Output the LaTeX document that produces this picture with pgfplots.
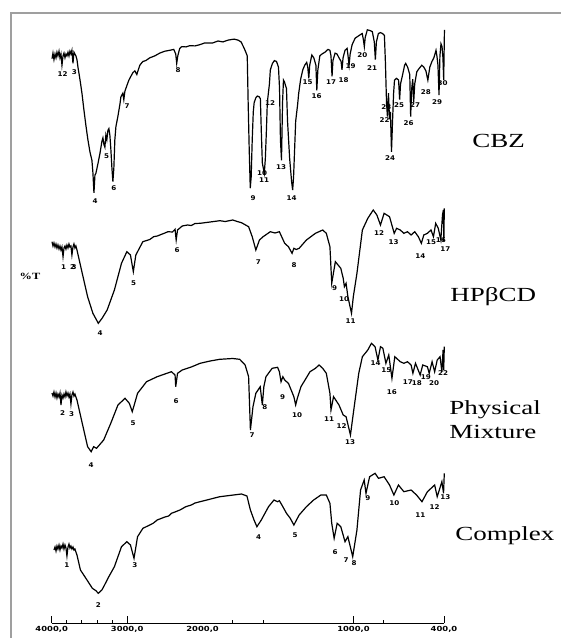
\documentclass[border=0pt]{standalone}
\usepackage{fontspec}
\setmainfont{Liberation Serif}
\newfontfamily\lblfont{DejaVu Sans}
\usepackage{pgfplots}
\pgfplotsset{compat=1.18}
\tikzset{pk/.style={font=\lblfont\bfseries\fontsize{6.5}{7}\selectfont, inner sep=0pt, xscale=1.1},
         nm/.style={font=\fontsize{20}{22}\selectfont, inner sep=0pt, xscale=1.35, anchor=west}}
\begin{document}
\begin{tikzpicture}
\useasboundingbox (0,0) rectangle (561pt,638pt);
\begin{axis}[
  at={(51.7pt,15pt)}, anchor=south west,
  scale only axis, width=392.3pt, height=610pt,
  xmin=4000, xmax=400, ymin=13, ymax=623, y dir=reverse,
  x coord trafo/.code={\pgfmathparse{(#1>=2000)*(2000-0.5*(#1))+(#1<2000)*(3000-(#1))}},
  x coord inv trafo/.code={\pgfmathparse{(#1<=1000)*(4000-2*(#1))+(#1>1000)*(3000-(#1))}},
  axis x line=bottom, axis y line=none,
  axis line style={-, black, line width=0.9pt},
  xtick={4000,3000,1000,400},
  xticklabels={4000{,}0,3000{,}0,1000{,}0,400{,}0},
  extra x ticks={2000},
  extra x tick labels={2000{,}0},
  extra x tick style={major tick length=0pt},
  minor xtick={3800,3600,3400,3200,1800,1600,800},
  tick align=inside,
  major tick length=7pt, minor tick length=3pt,
  tick style={black, line width=0.8pt},
  xticklabel style={font=\lblfont\bfseries\fontsize{7}{8}\selectfont, inner sep=0pt, yshift=-3.5pt, xscale=1.2},
  ytick=\empty,
  clip=false,
]
% CBZ
\addplot[black, line width=1.2pt] table {
3996 58.7
3983 53.1
3970 59.6
3956 54.0
3943 57.8
3930 52.2
3917 55.9
3903 51.2
3890 57.8
3877 54.0
3864 65.2
3850 55.9
3837 53.1
3824 57.8
3811 54.0
3798 55.9
3784 52.2
3771 55.9
3758 51.2
3745 54.0
3732 50.3
3718 63.4
3705 52.2
3692 54.0
3679 55.9
3665 59.6
3652 67.1
3626 79.2
3599 93.2
3573 109.9
3546 125.8
3520 139.8
3493 151.9
3467 160.3
3454 172.4
3440 192.9
3427 175.2
3414 173.3
3388 164.0
3361 153.7
3335 141.6
3321 137.9
3308 144.4
3295 147.2
3282 135.1
3269 139.8
3255 130.4
3242 128.6
3229 135.1
3216 149.1
3202 167.7
3189 181.7
3176 167.7
3163 139.8
3149 126.7
3123 116.5
3096 104.4
3083 96.9
3057 93.2
3044 99.7
3030 91.3
3004 85.7
2977 80.1
2951 76.4
2924 72.7
2898 70.8
2872 74.5
2832 65.2
2792 61.5
2753 60.6
2700 57.8
2634 55.9
2568 53.1
2501 51.2
2435 50.3
2382 49.4
2356 54.0
2343 63.4
2329 55.9
2303 48.4
2276 46.6
2220 46.9
2171 45.7
2100 45.9
2038 44.7
1985 42.9
1932 42.9
1898 41.0
1865 41.9
1831 40.1
1791 39.1
1765 40.1
1745 41.9
1724 48.4
1711 53.1
1704 55.9
1698 102.5
1691 149.1
1684 188.2
1678 177.0
1671 139.8
1664 111.8
1658 102.5
1647 97.8
1637 96.0
1624 96.9
1617 98.8
1611 130.4
1604 163.0
1597 168.6
1591 173.3
1584 158.4
1577 130.4
1571 102.5
1564 93.2
1557 83.9
1551 69.9
1537 63.4
1524 60.6
1510 61.5
1497 67.1
1490 88.5
1484 139.8
1477 160.3
1470 102.5
1464 80.1
1457 82.0
1450 85.7
1444 88.5
1437 121.1
1423 158.4
1410 181.7
1403 190.1
1397 177.0
1390 149.1
1383 121.1
1370 104.4
1363 93.2
1350 79.2
1336 69.9
1323 65.2
1310 62.4
1303 67.1
1296 78.3
1290 65.2
1276 55.0
1263 57.8
1249 65.2
1243 90.4
1236 69.9
1223 55.9
1209 54.0
1189 52.2
1169 49.4
1156 50.3
1149 55.9
1142 76.4
1136 60.6
1122 53.1
1109 54.0
1096 57.8
1082 61.5
1076 69.9
1069 57.8
1056 50.3
1042 48.4
1036 55.9
1029 65.2
1022 54.0
1009 44.7
989 38.2
962 35.4
942 33.5
935 39.1
928 46.6
922 37.3
908 29.8
888 30.7
875 31.7
862 41.9
855 59.6
848 41.9
835 33.5
821 32.6
808 33.5
795 35.4
788 63.4
781 102.5
775 116.5
768 93.2
761 119.3
755 111.8
748 151.9
741 121.1
734 93.2
728 80.1
715 78.3
701 80.1
694 99.7
688 83.9
674 74.5
661 65.2
654 63.4
641 67.1
627 74.5
621 116.5
614 88.5
607 79.2
601 102.5
594 83.9
580 71.7
567 68.9
547 65.2
534 67.1
520 70.8
507 80.1
494 67.1
480 61.5
467 57.8
453 50.3
447 55.9
440 65.2
433 95.0
427 55.9
420 43.8
413 46.6
407 57.8
402 80.1
397 29.8
};
% HPbetaCD
\addplot[black, line width=1.2pt] table {
3996 241.7
3983 246
3970 243
3956 247
3943 244
3930 248
3917 245
3903 249
3890 246
3877 250
3864 247
3850 256.7
3837 248
3824 246
3811 249
3798 245
3784 248
3771 244
3758 247
3745 246
3732 255
3718 247
3705 244
3692 248
3679 246
3665 250
3595 273.3
3524 296.7
3454 313.3
3420 318
3382 323.3
3330 318
3265 310
3169 290
3075 263.3
3004 251.7
2956 255
2918 271.7
2885 255
2792 241.7
2700 239.5
2649 236.7
2600 236
2500 233
2459 231.7
2400 232
2365 229.3
2350 240
2332 230
2270 226
2200 225
2150 225.5
2100 223.5
2033 223.3
1950 222
1886 220.7
1850 221.5
1800 220
1770 221.5
1742 222.7
1695 226.7
1671 236.7
1647 250
1623 240
1599 236.7
1551 231.7
1520 233
1491 231.7
1456 243.3
1431 246.7
1407 253.3
1395 248.3
1380 249.5
1360 248.3
1312 240
1252 233.3
1204 230
1180 233.3
1156 246.7
1144 283.3
1120 261.7
1084 268.3
1068 278.3
1060 286.7
1049 283.3
1037 296.7
1013 313.3
1001 296.7
977 273.3
941 230
905 218.3
869 210
845 215
821 225
797 213.3
761 216.7
730 233.3
714 228.3
690 230
666 233.3
642 231.7
618 235
594 231.7
570 236.7
550 243.3
534 235
510 233.3
486 230
470 236.7
455 223.3
438 228.3
421 240
410 215
404 210
401 241.7
398 208.3
};
% Physical mixture
\addplot[black, line width=1.2pt] table {
3996 393
3983 396
3970 392
3956 397
3943 393
3930 398
3917 394
3903 397
3890 393
3877 405
3864 395
3850 398
3837 394
3824 397
3811 392
3798 396
3784 393
3771 397
3758 394
3745 404
3732 395
3718 392
3705 396
3692 394
3679 397
3665 400
3595 423.3
3524 446.7
3477 451.7
3444 446.7
3406 448.3
3311 440
3217 423.3
3122 405
3028 398.3
2971 403.3
2932 411.7
2862 393.3
2743 381.7
2602 376.7
2500 374
2413 371.7
2365 375
2356 386.7
2332 373.3
2270 370
2150 367
2033 363.3
1950 361
1886 359.3
1800 358.5
1754 359.3
1718 365
1695 376.7
1683 430
1666 406.7
1647 393.3
1618 386.7
1604 405
1594 386.7
1580 376.7
1539 368.3
1503 367.3
1491 371.7
1480 381.7
1468 376.7
1456 380
1431 383.3
1395 396.7
1383 405
1372 398.3
1348 386.7
1288 371.7
1252 368.3
1228 365
1204 368.3
1180 373.3
1156 393.3
1149 410
1132 396.7
1096 405
1068 415
1049 416.7
1020 435
1001 413.3
965 373.3
941 356.7
905 350
881 343.3
857 346.7
838 360
821 346.7
805 348.3
785 363.3
766 355
745 378.3
726 356.7
690 361.7
666 363.3
642 361.7
618 365
606 373.3
589 363.3
558 375
541 365
510 366.7
498 373.3
479 361.7
462 371.7
445 360
426 356.7
414 371.7
406 350
402 370
398 346.7
};
% Complex
\addplot[black, line width=1.2pt] table {
3970 550
3956 547
3943 551
3930 546
3917 549
3903 545
3890 550
3877 546
3864 548
3850 544
3837 549
3824 545
3811 548
3798 556
3784 547
3771 544
3758 548
3745 546
3732 549
3718 547
3705 550
3692 549
3679 552
3665 555
3619 570
3532 580
3461 588.3
3414 590.7
3382 593.3
3335 590
3311 586.7
3243 576.7
3169 566.7
3075 546.7
3004 541.7
2956 545
2909 558.3
2862 536.7
2791 528.3
2700 525
2650 523
2602 520
2500 517
2450 516
2413 513.3
2350 511.5
2300 510
2223 506.7
2150 505
2100 503
2033 501.7
1886 496.7
1742 494
1706 496
1683 510
1659 520
1640 526.7
1611 520
1563 506.7
1527 500
1503 501.7
1491 500.7
1468 506.7
1444 513.3
1419 518.3
1395 525
1360 515
1312 506.7
1264 500
1216 495
1180 495
1156 503.3
1144 523.3
1128 538.3
1108 523.3
1084 526.7
1056 541.7
1037 536.7
1005 556.7
977 530
953 490
929 480
917 493.3
893 476.7
857 473.3
834 478.3
797 476.7
761 485
732 495
702 485
666 491.7
618 490
582 495
546 501.7
510 491.7
462 485
445 496.7
414 481.7
403 493.3
398 473.3
};
\end{axis}
\begin{scope}[x=1pt, y=-1pt, shift={(0pt,638pt)}]
\draw[gray!75, line width=1.3pt] (11,638) -- (11,13) -- (561,13);
% CBZ peak labels
\node[pk] at (62.6,74.5) {12};
\node[pk] at (74.4,72) {3};
\node[pk] at (95,201) {4};
\node[pk] at (106.6,156.5) {5};
\node[pk] at (113.8,188) {6};
\node[pk] at (127,106) {7};
\node[pk] at (178,70) {8};
\node[pk] at (253,198.5) {9};
\node[pk] at (262.2,173.3) {10};
\node[pk] at (264,180) {11};
\node[pk] at (270,103.3) {12};
\node[pk] at (281,166.7) {13};
\node[pk] at (291.6,198.3) {14};
\node[pk] at (307.7,81.7) {15};
\node[pk] at (316.6,96) {16};
\node[pk] at (331,81.7) {17};
\node[pk] at (343.5,80) {18};
\node[pk] at (350.6,66) {19};
\node[pk] at (362.4,55) {20};
\node[pk] at (372,68.3) {21};
\node[pk] at (384.6,120) {22};
\node[pk] at (386.4,106.7) {23};
\node[pk] at (390,158.3) {24};
\node[pk] at (399,105) {25};
\node[pk] at (408.6,123.3) {26};
\node[pk] at (415,105) {27};
\node[pk] at (425.8,91.7) {28};
\node[pk] at (437.2,101.7) {29};
\node[pk] at (442.6,83.3) {30};
% HPbCD labels
\node[pk] at (63.7,266.7) {1};
\node[pk] at (72.5,266.7) {2};
\node[pk] at (74,266.7) {3};
\node[pk] at (100.2,333.3) {4};
\node[pk] at (133.5,283.3) {5};
\node[pk] at (177.1,250) {6};
\node[pk] at (258.3,261.7) {7};
\node[pk] at (294.1,265) {8};
\node[pk] at (334.5,288.3) {9};
\node[pk] at (344.2,299.3) {10};
\node[pk] at (350.6,320.7) {11};
\node[pk] at (379.2,233.3) {12};
\node[pk] at (393.6,241.7) {13};
\node[pk] at (420.4,256) {14};
\node[pk] at (431.1,241.7) {15};
\node[pk] at (440.8,240) {16};
\node[pk] at (445.4,249.3) {17};
% Physical mixture labels
\node[pk] at (62.6,413.3) {2};
\node[pk] at (71.6,414) {3};
\node[pk] at (91.2,465) {4};
\node[pk] at (133.1,423.3) {5};
\node[pk] at (176,400.7) {6};
\node[pk] at (252.2,435) {7};
\node[pk] at (264.8,406.7) {8};
\node[pk] at (282.6,396.7) {9};
\node[pk] at (297,415) {10};
\node[pk] at (329.2,419) {11};
\node[pk] at (341.7,426) {12};
\node[pk] at (350,441.7) {13};
\node[pk] at (375.7,363.3) {14};
\node[pk] at (386.4,370) {15};
\node[pk] at (391.8,391.7) {16};
\node[pk] at (407.9,381.7) {17};
\node[pk] at (416.8,383.3) {18};
\node[pk] at (425.8,377) {19};
\node[pk] at (434,383.5) {20};
\node[pk] at (443,373.3) {22};
% Complex labels
\node[pk] at (66.9,565) {1};
\node[pk] at (98.4,605) {2};
\node[pk] at (134.9,565) {3};
\node[pk] at (258.7,536.7) {4};
\node[pk] at (295.2,535) {5};
\node[pk] at (335.2,551.7) {6};
\node[pk] at (346,560) {7};
\node[pk] at (354.2,563.3) {8};
\node[pk] at (367.8,498.3) {9};
\node[pk] at (394.3,502.7) {10};
\node[pk] at (420.4,515) {11};
\node[pk] at (434.7,506.7) {12};
\node[pk] at (445.4,496.7) {13};
% names
\node[nm] at (472,141) {CBZ};
\node[nm] at (450,297) {HPβCD};
\node[nm] at (449,410) {Physical};
\node[nm] at (449,432) {Mixture};
\node[nm] at (455,536) {Complex};
\node[font=\bfseries\fontsize{9.5}{10}\selectfont, inner sep=0pt, xscale=1.3] at (30,276) {\%T};
\end{scope}
\end{tikzpicture}
\end{document}
